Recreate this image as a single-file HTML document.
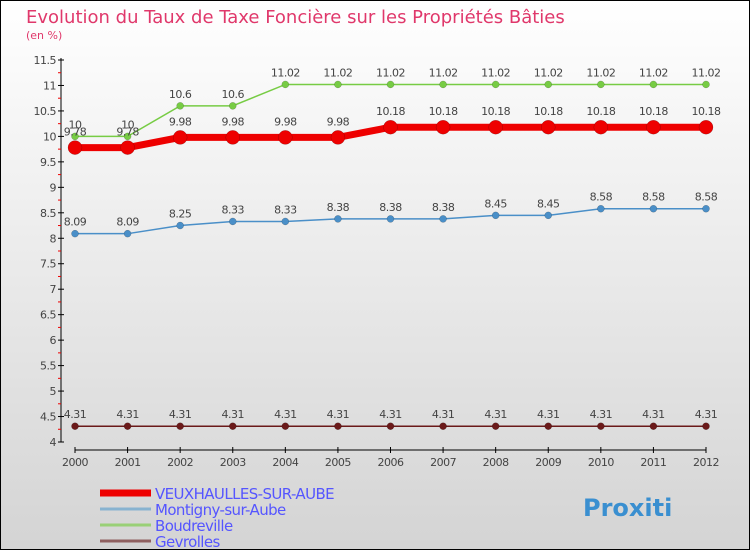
<!DOCTYPE html>
<html><head><meta charset="utf-8"><style>
body{margin:0;width:750px;height:550px;overflow:hidden;font-family:"DejaVu Sans","Liberation Sans",sans-serif}
#c{position:absolute;left:0;top:0;width:748px;height:548px;border:1px solid #000;background:linear-gradient(#fff,#d4d4d4)}
</style></head><body>
<div id="c">
<svg id="s" width="750" height="550" style="position:absolute;left:-1px;top:-1px">
<text x="26" y="23" font-size="18" fill="#e0386b">Evolution du Taux de Taxe Foncière sur les Propriétés Bâties</text>
<text x="26" y="39" font-size="11" fill="#e0386b">(en %)</text>
<g id="ax"></g><g id="series"></g><g id="lg"></g>
</svg></div>
<script>
const years=[2000,2001,2002,2003,2004,2005,2006,2007,2008,2009,2010,2011,2012];
const veux=[9.78,9.78,9.98,9.98,9.98,9.98,10.18,10.18,10.18,10.18,10.18,10.18,10.18];
const mont=[8.09,8.09,8.25,8.33,8.33,8.38,8.38,8.38,8.45,8.45,8.58,8.58,8.58];
const boud=[10,10,10.6,10.6,11.02,11.02,11.02,11.02,11.02,11.02,11.02,11.02,11.02];
const gevr=[4.31,4.31,4.31,4.31,4.31,4.31,4.31,4.31,4.31,4.31,4.31,4.31,4.31];
const yTicks=[4,4.5,5,5.5,6,6.5,7,7.5,8,8.5,9,9.5,10,10.5,11,11.5];
const names=["VEUXHAULLES-SUR-AUBE","Montigny-sur-Aube","Boudreville","Gevrolles"];
const NS="http://www.w3.org/2000/svg";
const X=i=>75+i*(706-75)/(years.length-1);
const Y=v=>442-(v-4)/(11.5-4)*382;
function mk(p,t,a){const e=document.createElementNS(NS,t);for(const k in a)e.setAttribute(k,a[k]);p.appendChild(e);return e;}
const ax=document.getElementById('ax');
let e=mk(ax,'line',{x1:61,y1:58,x2:61,y2:442,stroke:'#000'});


e=mk(ax,'line',{x1:75,y1:450,x2:706,y2:450,stroke:'#000'});


yTicks.forEach((t,i)=>{const y=Y(t);
 mk(ax,'line',{x1:58,y1:y,x2:64,y2:y,stroke:'#000'});
 if(i<yTicks.length-1)mk(ax,'line',{x1:58,y1:Y(t+0.25),x2:61,y2:Y(t+0.25),stroke:'#e00'});
 const l=mk(ax,'text',{x:56,y:y+4,'font-size':11,'text-anchor':'end',fill:'#444','letter-spacing':'-0.5'});l.textContent=t;
 
 });
years.forEach((yr,i)=>{const x=X(i);mk(ax,'line',{x1:x,y1:447,x2:x,y2:453,stroke:'#000'});
 const l=mk(ax,'text',{x:x,y:466,'font-size':11,'text-anchor':'middle',fill:'#444','letter-spacing':'-0.5'});l.textContent=yr;
 
 });
const sg=document.getElementById('series');
function series(vals,color,w,r,name,lab){const g=mk(sg,'g',{});
 
 
 mk(g,'polyline',{points:vals.map((v,i)=>X(i)+','+Y(v)).join(' '),fill:'none',stroke:color,'stroke-width':w});
 vals.forEach((v,i)=>{const c=mk(g,'circle',{cx:X(i),cy:Y(v),r:r,fill:color,stroke:'rgba(0,0,0,0.3)','stroke-width':0.5});
  
  
  const t=mk(g,'text',{x:X(i),y:Y(v)-lab,'font-size':11,'text-anchor':'middle',fill:'#444','letter-spacing':'-0.5'});t.textContent=v;
  
  });}
series(gevr,'#6b1a1a',1.5,3.5,'series-gevrolles',8);
series(mont,'#4a8fc8',1.5,3.5,'series-montigny',8);
series(boud,'#77cc44',1.5,3.5,'series-boudreville',8);
series(veux,'#ee0000',7,7,'series-veuxhaulles',12);
const lg=document.getElementById('lg');
const lc=['#ee0000','#88b3d0','#99d077','#8f6060'],lw=[7,3,3,3];
names.forEach((n,i)=>{const y=493+i*16;const g=mk(lg,'g',{});
 
 
 mk(g,'line',{x1:100,y1:y,x2:151,y2:y,stroke:lc[i],'stroke-width':lw[i]});
 const t=mk(g,'text',{x:155,y:y+6,'font-size':15,fill:'#5555ff','letter-spacing':'-0.6'});t.textContent=n;});
const p=mk(lg,'text',{x:583,y:516,'font-size':24,'font-weight':'bold',fill:'#3a8fd0'});p.textContent='Proxiti';


</script>
</body></html>
